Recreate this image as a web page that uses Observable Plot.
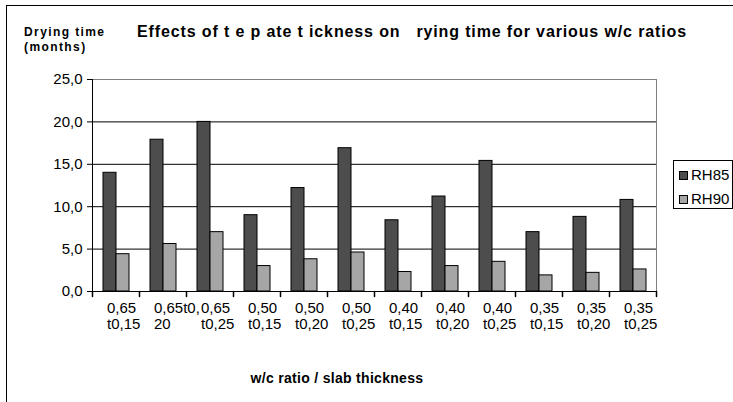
<!DOCTYPE html>
<html>
<head>
<meta charset="utf-8">
<script src="https://cdn.jsdelivr.net/npm/d3@7"></script>
<script src="https://cdn.jsdelivr.net/npm/@observablehq/plot@0.6"></script>
<style>
  html, body { margin: 0; padding: 0; background: #fff; }
  #wrap { position: relative; width: 733px; height: 402px; overflow: hidden; font-family: "Liberation Sans", Arial, sans-serif; color: #000; }
  #outer { position: absolute; left: 6px; top: 5px; width: 900px; height: 600px; border-left: 1px solid #000; border-top: 1px solid #000; }
  #chart { position: absolute; left: 0; top: 0; }
  .ylab { position: absolute; left: 24px; top: 25px; font-size: 12px; font-weight: bold; line-height: 15px; letter-spacing: 1.4px; }
  .title { position: absolute; left: 137px; top: 23px; font-size: 16px; font-weight: bold; letter-spacing: 0.87px; white-space: pre; }
  .xlab { position: absolute; left: 0; width: 674px; top: 370px; text-align: center; font-size: 14px; font-weight: bold; letter-spacing: 0.3px; }
  .legend { position: absolute; left: 673px; top: 160px; width: 58px; height: 47px; border: 1px solid #000; background: #fff; font-size: 15px; }
  .legend .item { position: absolute; left: 5px; display: flex; align-items: center; line-height: 17px; }
  .legend .sw { width: 7px; height: 7px; border: 1px solid #000; margin-right: 3px; margin-top: 2px; }
</style>
</head>
<body>
<div id="wrap">
  <div id="outer"></div>
  <div id="chart"></div>
  <div class="ylab">Drying time<br>(months)</div>
  <div class="title" id="title"></div>
  <div class="xlab" id="xlab"></div>
  <div class="legend" id="legend"></div>
</div>
<script>
const categories = ["0,65\nt0,15", "0,65t0,\n20", "0,65\nt0,25", "0,50\nt0,15", "0,50\nt0,20", "0,50\nt0,25",
                    "0,40\nt0,15", "0,40\nt0,20", "0,40\nt0,25", "0,35\nt0,15", "0,35\nt0,20", "0,35\nt0,25"];
const series = ["RH85", "RH90"];
const rh85 = [14.0, 17.9, 20.0, 9.0, 12.2, 16.9, 8.4, 11.2, 15.4, 7.0, 8.8, 10.8];
const rh90 = [4.4, 5.6, 7.0, 3.0, 3.8, 4.6, 2.3, 3.0, 3.5, 1.9, 2.2, 2.6];
const colors = ["#4d4d4d", "#a6a6a6"];
const yTicks = [0, 5, 10, 15, 20, 25];
const gridTicks = [5, 10, 15, 20];
const titleText = "Effects of t e p ate t ickness on   rying time for various w/c ratios";
const xTitle = "w/c ratio / slab thickness";

const rows = [];
categories.forEach((c, i) => {
  rows.push({category: c, series: series[0], value: rh85[i]});
  rows.push({category: c, series: series[1], value: rh90[i]});
});

const tickShape = { draw(context, l) { context.moveTo(0, 0); context.lineTo(0, -l); } };
const fmt = d => d.toFixed(1).replace(".", ",");

const chart = Plot.plot({
  width: 733,
  height: 402,
  marginTop: 79,
  marginLeft: 87,
  marginRight: 72,
  marginBottom: 111,
  style: { fontFamily: '"Liberation Sans", Arial, sans-serif', background: "transparent", overflow: "visible" },
  fx: { domain: categories, padding: 0, label: null },
  x: { domain: series, paddingInner: 0, paddingOuter: 0.77, axis: null },
  y: { domain: [0, 25], label: null },
  color: { domain: series, range: colors },
  marks: [
    Plot.gridY(gridTicks, { stroke: "#000", strokeOpacity: 1 }),
    Plot.frame({ anchor: "top", stroke: "#808080" }),
    Plot.frame({ anchor: "right", stroke: "#808080", facetAnchor: "right" }),
    Plot.barY(rows, { fx: "category", x: "series", y: "value", fill: "series", stroke: "#000", strokeWidth: 1 }),
    Plot.ruleY([0], { stroke: "#000" }),
    Plot.frame({ anchor: "left", stroke: "#000", facetAnchor: "left" }),
    Plot.vector(categories, { fx: d => d, frameAnchor: "bottom-left", length: 5, rotate: 180, anchor: "start", shape: tickShape, stroke: "#000" }),
    Plot.vector(categories.slice(-1), { fx: d => d, frameAnchor: "bottom-right", length: 5, rotate: 180, anchor: "start", shape: tickShape, stroke: "#000" }),
    Plot.axisY({ ticks: yTicks, tickFormat: fmt, tickSize: 5, tickPadding: 5, fontSize: 15, label: null, stroke: "#000" }),
    Plot.axisFx({ anchor: "bottom", tickSize: 0, tickPadding: 10, textAnchor: "start", dx: -9, fontSize: 15, lineHeight: 1.07, label: null })
  ]
});
document.getElementById("chart").appendChild(chart);

document.getElementById("title").textContent = titleText;
document.getElementById("xlab").textContent = xTitle;
const legend = document.getElementById("legend");
series.forEach((s, i) => {
  const item = document.createElement("div");
  item.className = "item";
  item.style.top = (5 + i * 23.5) + "px";
  const sw = document.createElement("div");
  sw.className = "sw";
  sw.style.background = colors[i];
  const t = document.createElement("span");
  t.textContent = s;
  item.appendChild(sw);
  item.appendChild(t);
  legend.appendChild(item);
});
</script>
</body>
</html>
